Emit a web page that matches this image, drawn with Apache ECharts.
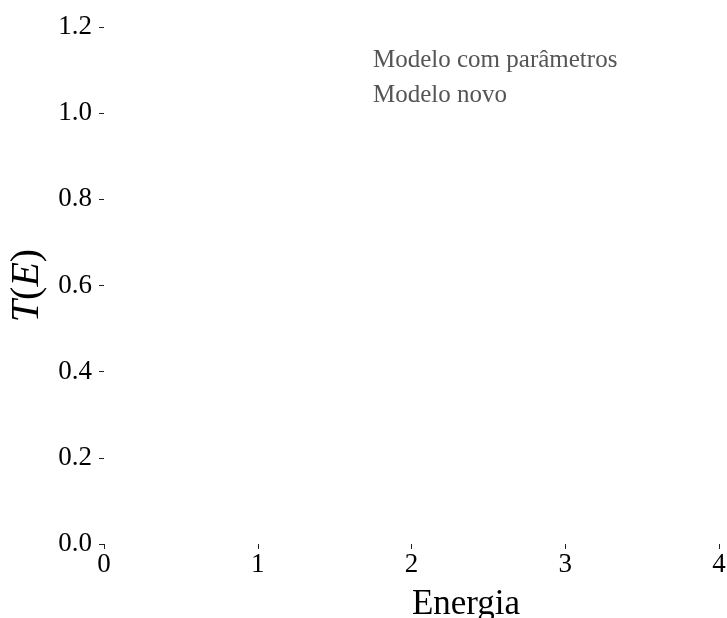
<!DOCTYPE html>
<html>
<head>
<meta charset="utf-8">
<script src="https://cdn.jsdelivr.net/npm/echarts@6/dist/echarts.min.js"></script>
<style>
  html, body { margin: 0; padding: 0; background: #ffffff; }
  #chart { width: 727px; height: 618px; }
</style>
</head>
<body>
<div id="chart"></div>
<script>
// Transmission T(E) against energy for the two models.
const energia = [];
const modeloComParametros = [];
const modeloNovo = [];

const seriesNames = ['Modelo com parâmetros', 'Modelo novo'];
const xTicks = [0, 1, 2, 3, 4];
const yTicks = [0.0, 0.2, 0.4, 0.6, 0.8, 1.0, 1.2];

const FONT = '"Liberation Serif", "DejaVu Serif", serif';

function pairs(xs, ys) {
  return xs.map((x, i) => [x, ys[i]]);
}

const chart = echarts.init(document.getElementById('chart'), null, { renderer: 'canvas' });

chart.setOption({
  backgroundColor: '#ffffff',
  animation: false,
  grid: { left: 104, right: 8, top: 27, bottom: 74, containLabel: false, outerBoundsMode: 'none' },
  legend: {
    orient: 'vertical',
    left: 333,
    top: 43,
    icon: 'none',
    itemWidth: 30,
    itemHeight: 14,
    itemGap: 10,
    data: seriesNames,
    textStyle: { fontFamily: FONT, fontSize: 25, color: '#555555', lineHeight: 22 }
  },
  xAxis: {
    type: 'value',
    min: xTicks[0],
    max: xTicks[xTicks.length - 1],
    interval: 1,
    name: 'Energia',
    nameLocation: 'middle',
    nameGap: 43,
    nameTextStyle: { fontFamily: FONT, fontSize: 35, color: '#000', padding: [0, 0, 0, 109] },
    axisLine: { show: false },
    axisTick: { show: true, length: 5, lineStyle: { color: '#222', width: 1 } },
    axisLabel: { margin: 7, fontFamily: FONT, fontSize: 27, color: '#000',
      formatter: v => String(v) },
    splitLine: { show: false }
  },
  yAxis: {
    type: 'value',
    min: yTicks[0],
    max: yTicks[yTicks.length - 1],
    interval: 0.2,
    name: '{i|T}{p|(}{i|E}{p|)}',
    nameLocation: 'middle',
    nameRotate: 90,
    nameGap: 55,
    nameTextStyle: {
      fontFamily: FONT, fontSize: 40, color: '#000',
      rich: {
        i: { fontFamily: FONT, fontSize: 40, fontStyle: 'italic', color: '#000' },
        p: { fontFamily: FONT, fontSize: 40, color: '#000' }
      }
    },
    axisLine: { show: false },
    axisTick: { show: true, length: 5, lineStyle: { color: '#222', width: 1 } },
    axisLabel: { margin: 12, fontFamily: FONT, fontSize: 27, color: '#000',
      formatter: v => v.toFixed(1) },
    splitLine: { show: false }
  },
  series: [
    {
      name: seriesNames[0],
      type: 'line',
      showSymbol: false,
      data: pairs(energia, modeloComParametros)
    },
    {
      name: seriesNames[1],
      type: 'line',
      showSymbol: false,
      data: pairs(energia, modeloNovo)
    }
  ]
});
</script>
</body>
</html>
